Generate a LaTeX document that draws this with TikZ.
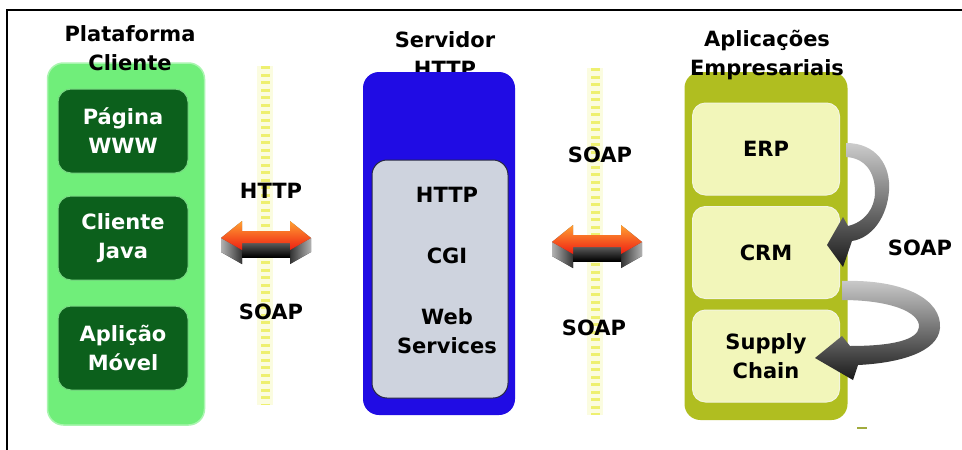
\documentclass[tikz,border=0pt]{standalone}
\usepackage{fontspec}
\setmainfont{DejaVu Sans}
\definecolor{clientgreen}{RGB}{112,238,122}
\definecolor{darkgreen}{RGB}{12,96,28}
\definecolor{greenrim}{RGB}{120,215,130}
\definecolor{serverblue}{RGB}{32,12,228}
\definecolor{panelgrey}{RGB}{206,211,222}
\definecolor{paneledge}{RGB}{40,40,70}
\definecolor{olive}{RGB}{176,190,32}
\definecolor{paleyellow}{RGB}{242,246,186}
\definecolor{dashyellow}{RGB}{238,240,112}
\definecolor{arroworange}{RGB}{255,160,50}
\definecolor{arrowred}{RGB}{238,30,18}
\begin{document}
\begin{tikzpicture}[x=1pt,y=-1pt,
  txt/.style={font=\fontsize{21}{29}\selectfont\bfseries, align=center, inner sep=0pt},
  column/.style={rounded corners=16pt, inner sep=0pt},
  clientbox/.style={column, rounded corners=13pt, fill=darkgreen, draw=greenrim, line width=1pt,
    minimum width=130, minimum height=84, txt, text=white},
  appbox/.style={column, rounded corners=13pt, fill=paleyellow, draw=white!85!olive, line width=1pt,
    minimum width=147, minimum height=92, txt},
  busline/.style={draw=dashyellow, line width=9pt, dash pattern=on 3pt off 4.5pt},
  busglow/.style={draw=dashyellow!22, line width=16pt},
  ribbon/.style={top color=gray!40, bottom color=black!90},
  dblarrow/.pic={
    % dark extrusion under the arrow
    \shade[top color=black!55, bottom color=black!95]
      (-45,0) -- (-24,-17) -- (-24,-7) -- (24,-7) -- (24,-17) -- (45,0)
      -- (45,14) -- (24,26) -- (24,19) -- (-24,19) -- (-24,26) -- (-45,14) -- cycle;
    \shade[left color=gray!60, right color=black!80]
      (-45,0) -- (-24,12) -- (-24,26) -- (-45,14) -- cycle;
    \shade[left color=black!80, right color=gray!60]
      (45,0) -- (24,12) -- (24,26) -- (45,14) -- cycle;
    \shade[top color=gray!70!black, bottom color=black]
      (-24,5) -- (24,5) -- (24,19) -- (-24,19) -- cycle;
    % red upper face
    \shade[top color=arroworange, bottom color=arrowred]
      (-45,0) -- (-24,-17) -- (-24,-7) -- (24,-7) -- (24,-17) -- (45,0)
      -- (24,12) -- (24,5) -- (-24,5) -- (-24,12) -- cycle;
  }]
\useasboundingbox (0,0) rectangle (962,450);
\fill[white] (0,0) rectangle (962,450);

% frame
\draw[line width=2.6pt] (7,450) -- (7,10) -- (962,10);

% dashed message buses
\coordinate (busAtop) at (265,66);
\coordinate (busAbot) at (265,405);
\coordinate (busBtop) at (595,68);
\coordinate (busBbot) at (595,415);
\draw[busglow] (busAtop) -- (busAbot);
\draw[busglow] (busBtop) -- (busBbot);
\draw[busline] (busAtop) -- (busAbot);
\draw[busline] (busBtop) -- (busBbot);

% client platform
\node[column, fill=clientgreen, draw=clientgreen!60!white, line width=1.5pt,
  minimum width=157, minimum height=362] (client) at (126,244) {};
\node[txt] (clienttitle) at (130,48) {Plataforma\\Cliente};
\node[clientbox] (pagina) at (123,131) {Página\\WWW};
\node[clientbox] (java) at (123,238) {Cliente\\Java};
\node[clientbox] (movel) at (123,348) {Aplição\\Móvel};

% HTTP server (its title sits partly behind the column)
\node[txt] (servertitle) at (445,54) {Servidor\\HTTP};
\node[column, fill=serverblue, minimum width=152, minimum height=343] (server) at (439,243.5) {};
\node[column, rounded corners=15pt, fill=panelgrey, draw=paneledge, line width=1pt,
  minimum width=136, minimum height=238] (panel) at (440,279) {};
\node[txt] (http) at (447,195) {HTTP};
\node[txt] (cgi) at (447,256) {CGI};
\node[txt] (ws) at (447,331) {Web\\Services};

% enterprise applications
\node[column, fill=olive, minimum width=163, minimum height=348] (apps) at (766,246) {};
\node[txt] (appstitle) at (767,55) {Aplicações\\Empresariais};
\node[appbox] (erp) at (766,149) {ERP};
\node[appbox] (crm) at (766,252.5) {CRM};
\node[appbox] (supply) at (766,356) {Supply\\Chain};
\draw[olive!70!gray, line width=1.5pt] (857,428) -- (867,428);

% protocol labels
\node[txt] (lhttp) at (271,191) {HTTP};
\node[txt] (lsoap) at (271,312) {SOAP};
\node[txt] (rsoap1) at (600,155) {SOAP};
\node[txt] (rsoap2) at (594,328) {SOAP};
\node[txt] (appsoap) at (920,248) {SOAP};

% double-headed links between the tiers
\pic at (266,238) {dblarrow};
\pic at (597,242) {dblarrow};

% ERP -> CRM
\shade[ribbon]
  (846,143) .. controls (876,143) and (891,165) .. (889,191)
  .. controls (887,217) and (872,238) .. (852,241)
  -- (843,267) -- (827,245) -- (843,217) -- (848,226)
  .. controls (865,222) and (875,208) .. (875,192)
  .. controls (875,172) and (865,158) .. (846,157) -- cycle;

% CRM -> Supply Chain
\shade[ribbon]
  (842,281) .. controls (905,279) and (942,300) .. (940,328)
  .. controls (938,352) and (900,363) .. (858,365)
  -- (853,380) -- (815,358) -- (842,336) -- (850,346)
  .. controls (892,346) and (918,340) .. (919,327)
  .. controls (920,312) and (890,300) .. (842,300) -- cycle;
\end{tikzpicture}
\end{document}
